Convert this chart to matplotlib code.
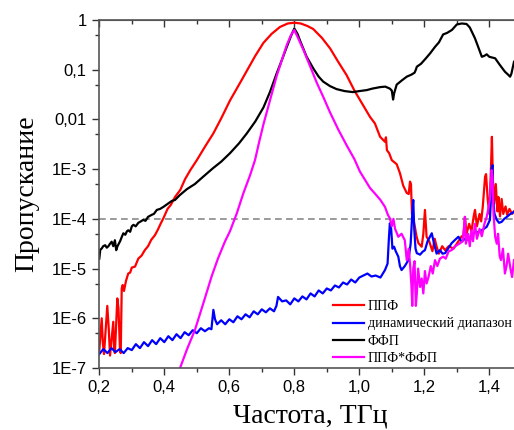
import matplotlib
matplotlib.use("Agg")
import matplotlib.pyplot as plt
import numpy as np
from matplotlib.ticker import FixedLocator, FuncFormatter, LogLocator, MultipleLocator, NullFormatter

# values, log10 of transmission
red_x = [0.200, 0.204, 0.2074, 0.211, 0.2145, 0.219, 0.2246, 0.229, 0.233, 0.238, 0.243, 0.2455,
         0.248, 0.252, 0.2554, 0.259, 0.2637, 0.266, 0.269, 0.272, 0.276, 0.282, 0.289, 0.295,
         0.300, 0.31, 0.32, 0.33, 0.34, 0.35, 0.36, 0.371, 0.38, 0.39, 0.397, 0.41, 0.42, 0.433,
         0.449, 0.464, 0.48, 0.50, 0.525, 0.551, 0.575, 0.602, 0.63, 0.654, 0.68, 0.705, 0.73,
         0.756, 0.78, 0.80, 0.82, 0.84, 0.858, 0.885, 0.91, 0.935, 0.961, 0.985, 1.012, 1.033,
         1.048, 1.064, 1.079, 1.082, 1.085, 1.092, 1.10, 1.115, 1.125, 1.135, 1.146, 1.152,
         1.156, 1.159, 1.162, 1.166, 1.171, 1.176, 1.182, 1.192, 1.197, 1.202, 1.207, 1.215,
         1.225, 1.232, 1.238, 1.245, 1.255, 1.264, 1.275, 1.29, 1.305, 1.315, 1.32, 1.325,
         1.33, 1.338, 1.345, 1.352, 1.356, 1.362, 1.37, 1.375, 1.38, 1.387, 1.39, 1.395, 1.40,
         1.405, 1.408, 1.411, 1.415, 1.42, 1.425, 1.428, 1.433, 1.438, 1.443, 1.45, 1.455,
         1.462, 1.47, 1.476]
red_lg = [-6.65, -6.3, -6.0, -6.5, -6.72, -6.3, -5.75, -6.2, -6.75, -6.4, -6.07, -6.6,
          -6.7, -6.1, -5.6, -5.8, -6.65, -6.7, -5.4, -5.33, -5.45, -5.25, -5.10, -5.08,
          -4.98, -4.96, -4.80, -4.74, -4.63, -4.55, -4.42, -4.33, -4.22, -4.08, -3.99, -3.80, -3.72, -3.56,
          -3.42, -3.2, -3.02, -2.82, -2.55, -2.28, -1.98, -1.62, -1.30, -1.02, -0.72, -0.46, -0.28,
          -0.14, -0.07, -0.055, -0.07, -0.12, -0.18, -0.36, -0.57, -0.84, -1.11, -1.42, -1.72, -1.95,
          -2.08, -2.35, -2.45, -2.36, -2.62, -2.68, -2.82, -2.90, -3.08, -3.33, -3.48, -3.5,
          -3.25, -3.3, -3.9, -4.0, -4.16, -4.35, -4.49, -4.56, -4.3, -3.82, -4.36, -4.45,
          -4.65, -4.4, -4.56, -4.7, -4.55, -4.63, -4.55, -4.6, -4.45, -4.35, -4.36, -3.96,
          -4.3, -4.1, -4.25, -3.95, -3.82, -4.15, -3.9, -4.05, -3.75, -3.15, -3.1, -3.6, -3.9,
          -3.0, -2.35, -3.2, -3.7, -3.3, -3.85, -3.56, -3.95, -3.6, -3.9, -3.75, -3.92,
          -3.8, -3.9, -3.85]

blue_x = [0.200, 0.2125, 0.225, 0.2375, 0.250, 0.2625, 0.275, 0.2875, 0.300, 0.3125, 0.325,
          0.3375, 0.350, 0.3625, 0.375, 0.3875, 0.400, 0.4125, 0.425, 0.4375, 0.450, 0.4625,
          0.475, 0.4875, 0.500, 0.5125, 0.525, 0.5375, 0.545, 0.551, 0.556, 0.5625, 0.575,
          0.5875, 0.600, 0.6125, 0.625, 0.6375, 0.650, 0.6625, 0.675, 0.6875, 0.700, 0.7125,
          0.725, 0.7375, 0.745, 0.750, 0.7625, 0.775, 0.7875, 0.800, 0.8125, 0.825, 0.8375,
          0.850, 0.8625, 0.875, 0.8875, 0.900, 0.9125, 0.925, 0.9375, 0.950, 0.9625, 0.975,
          0.9875, 1.000, 1.0125, 1.025, 1.0375, 1.050, 1.065, 1.079, 1.087, 1.091, 1.094,
          1.098, 1.102, 1.107, 1.112, 1.12, 1.125, 1.13, 1.14, 1.151, 1.158, 1.163, 1.166,
          1.169, 1.173, 1.177, 1.187, 1.195, 1.202, 1.21, 1.218, 1.223, 1.23, 1.238, 1.248,
          1.256, 1.264, 1.275, 1.284, 1.295, 1.305, 1.315, 1.325, 1.336, 1.346, 1.356, 1.367,
          1.377, 1.392, 1.402, 1.405, 1.407, 1.41, 1.412, 1.416, 1.423, 1.43, 1.438, 1.446,
          1.454, 1.465, 1.476]
blue_lg = [-6.72, -6.62, -6.70, -6.60, -6.68, -6.62, -6.70, -6.60, -6.64, -6.52, -6.60,
           -6.48, -6.56, -6.44, -6.52, -6.40, -6.48, -6.36, -6.44, -6.32, -6.40, -6.28,
           -6.34, -6.24, -6.30, -6.20, -6.26, -6.20, -6.22, -5.83, -6.02, -6.12, -6.04,
           -6.12, -6.02, -6.08, -5.96, -6.02, -5.92, -5.98, -5.86, -5.92, -5.82, -5.88,
           -5.80, -5.86, -5.75, -5.57, -5.66, -5.64, -5.72, -5.60, -5.66, -5.56, -5.62,
           -5.50, -5.56, -5.44, -5.50, -5.40, -5.44, -5.34, -5.38, -5.28, -5.32, -5.22,
           -5.28, -5.18, -5.14, -5.10, -5.16, -5.14, -5.18, -5.03, -4.9, -4.4, -4.09,
           -4.2, -4.6, -4.56, -4.65, -4.76, -4.95, -5.03, -4.95, -4.83, -4.5, -3.9, -3.62,
           -4.2, -4.6, -4.69, -4.72, -4.66, -4.63, -4.45, -4.35, -4.29, -4.5, -4.7, -4.63,
           -4.7, -4.69, -4.58, -4.49, -4.42, -4.36, -4.46, -4.4, -4.43, -4.35, -4.26, -4.27,
           -4.23, -4.16, -4.02, -3.6, -3.0, -2.92, -3.6, -3.9, -4.02, -4.08, -4.06, -4.0,
           -3.96, -3.9, -3.86]

black_x = [0.200, 0.203, 0.207, 0.212, 0.218, 0.223, 0.228, 0.233, 0.238, 0.243, 0.248, 0.252,
           0.256, 0.260, 0.264, 0.27, 0.274, 0.28, 0.285, 0.289, 0.295, 0.300, 0.305, 0.312,
           0.32, 0.328, 0.335, 0.342, 0.35, 0.361, 0.368, 0.377, 0.387, 0.397, 0.41, 0.423,
           0.433, 0.448, 0.47, 0.494, 0.52, 0.55, 0.575, 0.602, 0.63, 0.654, 0.68, 0.705, 0.725,
           0.746, 0.762, 0.777, 0.79, 0.80, 0.81, 0.818, 0.828, 0.838, 0.859, 0.875, 0.889,
           0.91, 0.93, 0.955, 0.98, 1.0, 1.023, 1.04, 1.064, 1.08, 1.094, 1.1, 1.104, 1.107,
           1.115, 1.13, 1.146, 1.16, 1.17, 1.174, 1.177, 1.19, 1.205, 1.218, 1.233, 1.245,
           1.258, 1.27, 1.285, 1.30, 1.315, 1.33, 1.34, 1.356, 1.368, 1.377, 1.385, 1.392,
           1.40, 1.418, 1.432, 1.448, 1.458, 1.464, 1.468, 1.476]
black_lg = [-4.80, -4.62, -4.60, -4.55, -4.53, -4.58, -4.55, -4.50, -4.46, -4.55, -4.43, -4.63,
            -4.55, -4.5, -4.45, -4.35, -4.29, -4.32, -4.25, -4.23, -4.26, -4.15, -4.12, -4.15,
            -4.08, -4.05, -4.02, -4.04, -3.96, -3.92, -3.90, -3.82, -3.80, -3.76, -3.70, -3.64,
            -3.62, -3.52, -3.40, -3.30, -3.15, -2.98, -2.85, -2.68, -2.48, -2.28, -2.04, -1.76, -1.45,
            -1.07, -0.80, -0.54, -0.32, -0.17, -0.28, -0.42, -0.58, -0.74, -0.98, -1.14, -1.24,
            -1.33, -1.39, -1.43, -1.45, -1.43, -1.41, -1.38, -1.35, -1.34, -1.38, -1.42, -1.60, -1.48,
            -1.30, -1.22, -1.14, -1.10, -1.06, -1.00, -0.94, -0.88, -0.77, -0.67, -0.54, -0.45,
            -0.29, -0.26, -0.2, -0.09, -0.07, -0.08, -0.15, -0.37, -0.58, -0.74, -0.72, -0.69,
            -0.74, -0.77, -0.9, -1.04, -1.10, -1.14, -1.08, -0.84]

mag_x = [0.44, 0.47, 0.494, 0.52, 0.546, 0.565, 0.587, 0.602, 0.623, 0.643, 0.664, 0.679, 0.692,
         0.705, 0.725, 0.746, 0.762, 0.777, 0.79, 0.80, 0.81, 0.828, 0.848, 0.869, 0.89, 0.91,
         0.935, 0.961, 0.985, 1.002, 1.018, 1.033, 1.048, 1.065, 1.079, 1.088, 1.094, 1.1, 1.105,
         1.11, 1.12, 1.13, 1.14, 1.146, 1.152, 1.156, 1.16, 1.163, 1.166, 1.17, 1.174, 1.177,
         1.181, 1.187, 1.192, 1.197, 1.202, 1.207, 1.213, 1.22, 1.226, 1.233, 1.24, 1.248,
         1.258, 1.266, 1.275, 1.284, 1.295, 1.31, 1.318, 1.322, 1.325, 1.328, 1.335, 1.34,
         1.345, 1.35, 1.356, 1.362, 1.37, 1.377, 1.385, 1.392, 1.397, 1.402, 1.407, 1.41,
         1.413, 1.418, 1.423, 1.427, 1.432, 1.436, 1.442, 1.448, 1.453, 1.458, 1.465, 1.47, 1.476]
mag_lg = [-7.15, -6.62, -6.24, -5.70, -5.15, -4.80, -4.45, -4.25, -3.89, -3.49, -3.12, -2.82, -2.45,
          -2.10, -1.62, -1.12, -0.80, -0.50, -0.30, -0.20, -0.34, -0.60, -0.92, -1.26, -1.56, -1.86,
          -2.2, -2.52, -2.8, -3.05, -3.22, -3.38, -3.49, -3.62, -3.76, -3.92, -3.99, -4.15, -4.0,
          -4.2, -4.36, -4.3, -4.43, -4.83, -4.6, -4.9, -5.3, -5.75, -5.0, -4.85, -5.75, -5.5,
          -5.0, -5.37, -5.2, -5.5, -5.05, -5.3, -5.17, -4.95, -5.1, -4.83, -4.95, -4.8,
          -4.76, -4.8, -4.65, -4.63, -4.55, -4.49, -4.45, -4.2, -3.96, -4.5, -4.3, -4.55,
          -4.23, -4.45, -4.1, -4.4, -4.2, -4.35, -4.1, -3.96, -3.8, -3.6, -3.02, -3.15,
          -3.9, -4.36, -4.5, -4.3, -4.75, -4.83, -4.6, -5.1, -4.95, -4.7, -5.0, -5.17, -4.83]

y_ticks = [1e-7, 1e-6, 1e-5, 1e-4, 1e-3, 1e-2, 1e-1, 1]
y_labels = ["1E-7", "1E-6", "1E-5", "1E-4", "1E-3", "0,01", "0,1", "1"]
x_ticks = [0.2, 0.4, 0.6, 0.8, 1.0, 1.2, 1.4]
x_labels = ["0,2", "0,4", "0,6", "0,8", "1,0", "1,2", "1,4"]
threshold = 1e-4

fig = plt.figure(figsize=(5.14, 4.30), dpi=100)
ax = fig.add_axes([99.3 / 514, 62 / 430, 422.5 / 514, 348 / 430])

ax.plot(red_x, 10 ** np.array(red_lg), color="#ff0000", lw=1.6, label="ППФ")
ax.plot(blue_x, 10 ** np.array(blue_lg), color="#0000ff", lw=1.6, label="динамический диапазон")
ax.plot(black_x, 10 ** np.array(black_lg), color="black", lw=1.6, label="ФФП")
ax.plot(mag_x, 10 ** np.array(mag_lg), color="#ff00ff", lw=1.6, label="ППФ*ФФП")
ax.axhline(threshold, color="#808080", lw=1.1, ls=(0, (4.4, 2.8)), zorder=1)

ax.set_yscale("log")
ax.set_xlim(0.2, 1.5)
ax.set_ylim(1e-7, 1)

ax.yaxis.set_major_locator(FixedLocator(y_ticks))
ax.yaxis.set_major_formatter(FuncFormatter(
    lambda v, p: y_labels[int(np.argmin([abs(np.log10(t) - np.log10(v)) for t in y_ticks]))]))
ax.yaxis.set_minor_locator(LogLocator(base=10, subs=[5]))
ax.yaxis.set_minor_formatter(NullFormatter())
ax.set_xticks(x_ticks)
ax.set_xticklabels(x_labels)
ax.xaxis.set_minor_locator(MultipleLocator(0.1))
for lab in ax.get_xticklabels() + ax.get_yticklabels():
    lab.set_fontfamily("Liberation Sans")
    lab.set_fontsize(12)

ax.tick_params(which="both", direction="out", color="#333333", pad=4)
ax.tick_params(which="major", length=5, width=1)
ax.tick_params(which="minor", length=3, width=1)

top = ax.secondary_xaxis("top")
top.set_xticks(x_ticks)
top.xaxis.set_minor_locator(MultipleLocator(0.1))
top.tick_params(which="both", direction="in", labeltop=False, color="#333333")
top.tick_params(which="major", length=5, width=1)
top.tick_params(which="minor", length=3, width=1)
top.spines["top"].set_color("#555555")

for s in ["left", "bottom", "top"]:
    ax.spines[s].set_color("#555555")
    ax.spines[s].set_linewidth(1.2)
ax.spines["right"].set_visible(False)

ax.set_xlabel("Частота, ТГц", family="Liberation Serif", fontsize=20, labelpad=5.5)
ax.set_ylabel("Пропускание", family="Liberation Serif", fontsize=20, labelpad=9)

ax.legend(loc="upper left", bbox_to_anchor=(333 / 514, 1 - 300 / 430), bbox_transform=fig.transFigure,
          frameon=False, prop={"family": "Liberation Serif", "size": 10}, handlelength=2.2,
          handletextpad=0.3, labelspacing=0.32, borderpad=0, borderaxespad=0)

fig.savefig("out.png", dpi=100)
